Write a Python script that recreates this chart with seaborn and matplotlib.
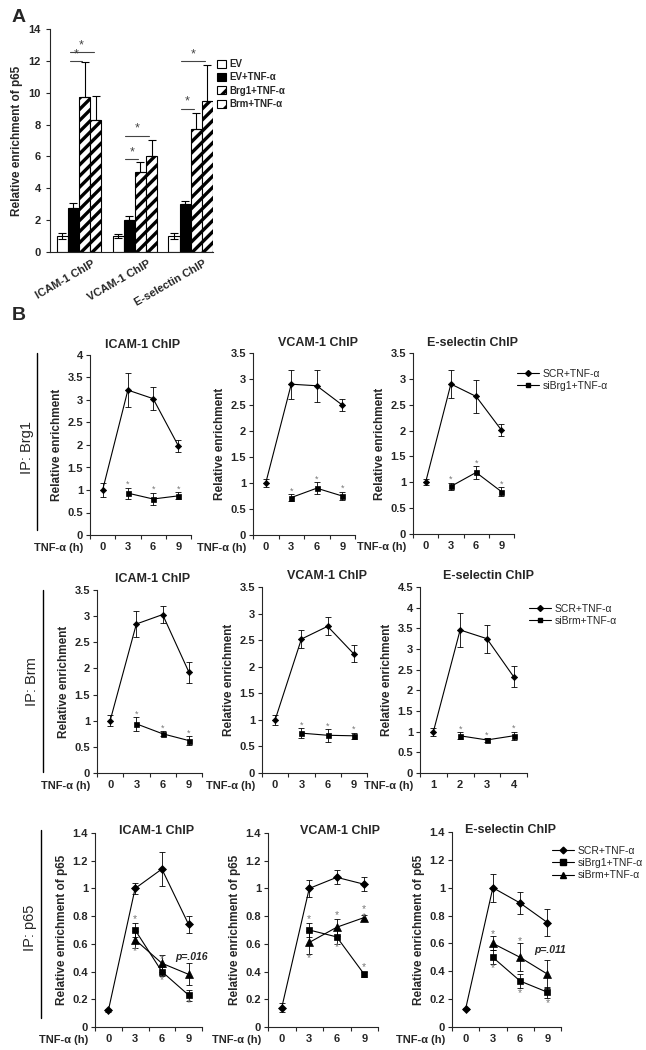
import numpy as np
import pandas as pd
import seaborn as sns
import matplotlib.pyplot as plt
from matplotlib.lines import Line2D
from matplotlib.patches import Patch
from matplotlib.ticker import FuncFormatter
from matplotlib.transforms import ScaledTranslation

sns.set_style('ticks')
plt.rcParams['font.family'] = ['Liberation Sans', 'DejaVu Sans']
plt.rcParams['hatch.linewidth'] = 2.4

# ---------------- panel A data ----------------
chip_targets = ['ICAM-1 ChIP', 'VCAM-1 ChIP', 'E-selectin ChIP']
a_groups = ['EV', 'EV+TNF-α', 'Brg1+TNF-α', 'Brm+TNF-α']
a_ev = [1.0, 1.0, 1.0]
a_ev_err = [0.2, 0.12, 0.18]
a_ev_tnf = [2.75, 2.0, 3.0]
a_ev_tnf_err = [0.35, 0.25, 0.2]
a_brg1 = [9.75, 5.0, 7.75]
a_brg1_err = [2.2, 0.65, 1.0]
a_brm = [8.3, 6.05, 9.5]
a_brm_err = [1.5, 1.0, 2.25]
# (target, from group, to group, bracket height)
a_sig = [(0, 1, 2, 12.0), (0, 1, 3, 12.55), (1, 1, 2, 5.85),
         (1, 1, 3, 7.3), (2, 1, 2, 9.0), (2, 1, 3, 12.0)]

# ---------------- panel B data ----------------
hours = ['0', '3', '6', '9']
hours_alt = ['1', '2', '3', '4']

# IP: Brg1
brg1_icam_scr = [1.0, 3.22, 3.03, 1.98]
brg1_icam_scr_err = [0.16, 0.37, 0.25, 0.14]
brg1_icam_si = [np.nan, 0.93, 0.80, 0.87]
brg1_icam_si_err = [np.nan, 0.12, 0.14, 0.08]
brg1_vcam_scr = [1.0, 2.90, 2.87, 2.50]
brg1_vcam_scr_err = [0.07, 0.28, 0.31, 0.12]
brg1_vcam_si = [np.nan, 0.72, 0.90, 0.75]
brg1_vcam_si_err = [np.nan, 0.07, 0.11, 0.08]
brg1_esel_scr = [1.0, 2.90, 2.66, 2.01]
brg1_esel_scr_err = [0.06, 0.27, 0.32, 0.12]
brg1_esel_si = [np.nan, 0.92, 1.19, 0.82]
brg1_esel_si_err = [np.nan, 0.07, 0.12, 0.09]

# IP: Brm
brm_icam_scr = [1.0, 2.85, 3.03, 1.93]
brm_icam_scr_err = [0.10, 0.25, 0.16, 0.20]
brm_icam_si = [np.nan, 0.94, 0.75, 0.62]
brm_icam_si_err = [np.nan, 0.13, 0.05, 0.08]
brm_vcam_scr = [1.0, 2.52, 2.76, 2.24]
brm_vcam_scr_err = [0.10, 0.17, 0.17, 0.16]
brm_vcam_si = [np.nan, 0.75, 0.71, 0.70]
brm_vcam_si_err = [np.nan, 0.09, 0.12, 0.06]
brm_esel_scr = [1.0, 3.46, 3.25, 2.33]
brm_esel_scr_err = [0.10, 0.40, 0.34, 0.26]
brm_esel_si = [np.nan, 0.90, 0.80, 0.90]
brm_esel_si_err = [np.nan, 0.08, 0.04, 0.10]

# IP: p65
p65_icam_scr = [0.12, 1.00, 1.14, 0.74]
p65_icam_scr_err = [0.01, 0.04, 0.12, 0.06]
p65_icam_brg1 = [np.nan, 0.70, 0.40, 0.23]
p65_icam_brg1_err = [np.nan, 0.05, 0.03, 0.04]
p65_icam_brm = [np.nan, 0.63, 0.46, 0.38]
p65_icam_brm_err = [np.nan, 0.06, 0.06, 0.08]
p65_vcam_scr = [0.14, 1.00, 1.08, 1.03]
p65_vcam_scr_err = [0.03, 0.06, 0.05, 0.05]
p65_vcam_brg1 = [np.nan, 0.70, 0.65, 0.38]
p65_vcam_brg1_err = [np.nan, 0.05, 0.05, 0.02]
p65_vcam_brm = [np.nan, 0.61, 0.72, 0.79]
p65_vcam_brm_err = [np.nan, 0.08, 0.06, 0.02]
p65_esel_scr = [0.13, 1.00, 0.89, 0.75]
p65_esel_scr_err = [0.01, 0.10, 0.08, 0.10]
p65_esel_brg1 = [np.nan, 0.50, 0.33, 0.25]
p65_esel_brg1_err = [np.nan, 0.05, 0.05, 0.04]
p65_esel_brm = [np.nan, 0.60, 0.50, 0.38]
p65_esel_brm_err = [np.nan, 0.05, 0.10, 0.10]
# significance asterisks (time index, y)
p65_icam_stars = [(1, 0.78), (1, 0.55), (2, 0.49), (2, 0.34), (3, 0.17)]
p65_vcam_stars = [(1, 0.78), (1, 0.50), (2, 0.81), (2, 0.58), (3, 0.85), (3, 0.79), (3, 0.43)]
p65_esel_stars = [(1, 0.67), (1, 0.42), (2, 0.62), (2, 0.24), (3, 0.17)]
p65_icam_p = 'p=.016'
p65_esel_p = 'p=.011'

W, H = 646, 1050
fig = plt.figure(figsize=(W / 100, H / 100), dpi=100)


def px_axes(l, r, t, b):
    return fig.add_axes([l / W, 1 - b / H, (r - l) / W, (b - t) / H])


def fmt_g(v, p):
    return f'{v:g}'


# ---------------- panel A ----------------
axA = px_axes(50, 213, 29, 252)
a_df = pd.DataFrame({
    'target': chip_targets * 4,
    'group': np.repeat(a_groups, 3),
    'value': a_ev + a_ev_tnf + a_brg1 + a_brm,
})
sns.barplot(data=a_df, x='target', y='value', hue='group', hue_order=a_groups,
            palette=['white', 'black', 'white', 'white'], edgecolor='black',
            linewidth=0.8, width=0.8, errorbar=None, legend=False, ax=axA)
hatches = [None, None, '///', '///']
errs = [a_ev_err, a_ev_tnf_err, a_brg1_err, a_brm_err]
vals = [a_ev, a_ev_tnf, a_brg1, a_brm]
bar_conts = list(axA.containers)
centers = []
for k, cont in enumerate(bar_conts):
    xs = [p.get_x() + p.get_width() / 2 for p in cont]
    centers.append(xs)
    if hatches[k]:
        for p in cont:
            p.set_hatch(hatches[k])
    lower = errs[k] if k == 0 else [0] * 3
    axA.errorbar(xs, vals[k], yerr=[lower, errs[k]], fmt='none', ecolor='black',
                 elinewidth=0.8, capsize=3, capthick=0.8)

for t, g0, g1, h in a_sig:
    x0 = centers[g0][t] - 0.07
    x1 = centers[g1][t] - 0.04
    axA.plot([x0, x1], [h, h], color='#444444', lw=0.8)
    axA.text((x0 + x1) / 2, h + 0.05, '*', ha='center', va='bottom', fontsize=9, color='#444444')

axA.set_ylim(0, 14)
axA.set_yticks(np.arange(0, 15, 2))
axA.set_xlim(-0.52, 2.4)
axA.set_xlabel('')
axA.set_ylabel('Relative enrichment of p65', fontsize=8.5, fontweight='bold', labelpad=4)
axA.tick_params(axis='y', labelsize=8, length=3, width=0.8)
axA.tick_params(axis='x', labelsize=8, length=0, pad=2)
for lbl in axA.get_yticklabels():
    lbl.set_fontweight('bold')
for lbl in axA.get_xticklabels():
    lbl.set_fontweight('bold')
    lbl.set_rotation(30)
    lbl.set_ha('right')
    lbl.set_rotation_mode('anchor')
    lbl.set_transform(lbl.get_transform() + ScaledTranslation(9 / 72, -3 / 72, fig.dpi_scale_trans))
sns.despine(ax=axA)
for s in axA.spines.values():
    s.set_linewidth(0.8)

a_handles = [Patch(facecolor='white', edgecolor='black', lw=0.8),
             Patch(facecolor='black', edgecolor='black', lw=0.8),
             Patch(facecolor='white', edgecolor='black', hatch='//', lw=0.8),
             Patch(facecolor='white', edgecolor='black', hatch='//', lw=0.8)]
legA = fig.legend(a_handles, a_groups, loc='upper left', bbox_to_anchor=(217 / W, 1 - 59 / H),
                  frameon=False, fontsize=7, handlelength=0.9, handleheight=0.9,
                  handletextpad=0.4, labelspacing=0.35, borderpad=0, borderaxespad=0)
for t in legA.get_texts():
    t.set_fontweight('bold')

fig.text(12 / W, 1 - 17 / H, 'A', fontsize=14, fontweight='bold', va='center')
fig.text(12 / W, 1 - 316 / H, 'B', fontsize=14, fontweight='bold', va='center')

# ---------------- panel B ----------------
row_axes = [
    [(90, 191, 355, 535), (253, 355, 353, 535), (413, 514, 353, 534)],
    [(97, 202, 590, 773), (262, 367, 587, 773), (420, 527, 587, 773)],
    [(95, 202, 833, 1027), (268, 378, 833, 1027), (452, 561, 832, 1027)],
]
title_x = [[0.52, 0.64, 0.59], [0.53, 0.62, 0.64], [0.58, 0.65, 0.54]]
title_dy = [7.5, 8, 1.5]

rows = [
    dict(ylabel='Relative enrichment', ylims=[4, 3.5, 3.5], step=0.5,
         xlabels=[hours, hours, hours],
         series=[
             [('SCR+TNF-α', brg1_icam_scr, brg1_icam_scr_err, 'D'), ('siBrg1+TNF-α', brg1_icam_si, brg1_icam_si_err, 's')],
             [('SCR+TNF-α', brg1_vcam_scr, brg1_vcam_scr_err, 'D'), ('siBrg1+TNF-α', brg1_vcam_si, brg1_vcam_si_err, 's')],
             [('SCR+TNF-α', brg1_esel_scr, brg1_esel_scr_err, 'D'), ('siBrg1+TNF-α', brg1_esel_si, brg1_esel_si_err, 's')],
         ]),
    dict(ylabel='Relative enrichment', ylims=[3.5, 3.5, 4.5], step=0.5,
         xlabels=[hours, hours, hours_alt],
         series=[
             [('SCR+TNF-α', brm_icam_scr, brm_icam_scr_err, 'D'), ('siBrm+TNF-α', brm_icam_si, brm_icam_si_err, 's')],
             [('SCR+TNF-α', brm_vcam_scr, brm_vcam_scr_err, 'D'), ('siBrm+TNF-α', brm_vcam_si, brm_vcam_si_err, 's')],
             [('SCR+TNF-α', brm_esel_scr, brm_esel_scr_err, 'D'), ('siBrm+TNF-α', brm_esel_si, brm_esel_si_err, 's')],
         ]),
    dict(ylabel='Relative enrichment of p65', ylims=[1.4, 1.4, 1.4], step=0.2,
         xlabels=[hours, hours, hours],
         series=[
             [('SCR+TNF-α', p65_icam_scr, p65_icam_scr_err, 'D'), ('siBrg1+TNF-α', p65_icam_brg1, p65_icam_brg1_err, 's'),
              ('siBrm+TNF-α', p65_icam_brm, p65_icam_brm_err, '^')],
             [('SCR+TNF-α', p65_vcam_scr, p65_vcam_scr_err, 'D'), ('siBrg1+TNF-α', p65_vcam_brg1, p65_vcam_brg1_err, 's'),
              ('siBrm+TNF-α', p65_vcam_brm, p65_vcam_brm_err, '^')],
             [('SCR+TNF-α', p65_esel_scr, p65_esel_scr_err, 'D'), ('siBrg1+TNF-α', p65_esel_brg1, p65_esel_brg1_err, 's'),
              ('siBrm+TNF-α', p65_esel_brm, p65_esel_brm_err, '^')],
         ]),
]
p65_stars = [p65_icam_stars, p65_vcam_stars, p65_esel_stars]
p65_ptext = [(3.12, 0.505, p65_icam_p), None, (3.1, 0.55, p65_esel_p)]

big_ms = {'D': 4.2, 's': 5, '^': 5.5}
small_ms = {'D': 3.2, 's': 3.6, '^': 4}

for r, row in enumerate(rows):
    for c in range(3):
        ax = px_axes(*row_axes[r][c])
        labels = row['xlabels'][c]
        x = np.arange(len(labels))
        ms_map = big_ms if r == 2 else small_ms
        for name, v, e, mk in row['series'][c]:
            d = pd.DataFrame({'t': x, 'v': v}).dropna()
            sns.lineplot(data=d, x='t', y='v', ax=ax, color='black', linewidth=0.8,
                         marker=mk, markersize=ms_map[mk], markeredgecolor='black',
                         markerfacecolor='black', markeredgewidth=0.5)
            ax.errorbar(x, v, yerr=e, fmt='none', ecolor='black', elinewidth=0.6,
                        capsize=2.5, capthick=0.6)
            if r < 2 and name != 'SCR+TNF-α':
                for i in range(1, len(x)):
                    ax.annotate('*', xy=(i, v[i] + e[i]), xytext=(0, -1), textcoords='offset points',
                                ha='center', va='bottom', fontsize=6.5, color='#777777')
        if r == 2:
            for i, y in p65_stars[c]:
                ax.text(i, y, '*', ha='center', va='center', fontsize=7.5, color='#777777')
            if p65_ptext[c]:
                px, py, s = p65_ptext[c]
                ax.text(px, py, s, ha='center', va='center', fontsize=7.5,
                        fontweight='bold', fontstyle='italic')

        ax.set_xlim(-0.5, len(x) - 0.5)
        ax.set_ylim(0, row['ylims'][c])
        ax.set_yticks(np.arange(0, row['ylims'][c] + 1e-6, row['step']))
        ax.yaxis.set_major_formatter(FuncFormatter(fmt_g))
        ax.set_xticks(np.arange(-0.5, len(x), 1.0))
        ax.set_xticklabels([])
        ax.set_xticks(x, minor=True)
        ax.set_xticklabels(labels, minor=True)
        ax.tick_params(axis='x', which='minor', length=0, pad=5, labelsize=8)
        ax.tick_params(axis='x', which='major', length=3, width=0.8, direction='out')
        ax.tick_params(axis='y', length=3, width=0.8, labelsize=8, pad=2)
        for lbl in ax.get_xticklabels(minor=True) + ax.get_yticklabels():
            lbl.set_fontweight('bold')
        ax.set_xlabel('')
        ax.set_ylabel(row['ylabel'], fontsize=8.5, fontweight='bold', labelpad=3)
        sns.despine(ax=ax)
        for s in ax.spines.values():
            s.set_linewidth(0.8)
        ax.annotate('TNF-α (h)', xy=(0, 0), xycoords='axes fraction', xytext=(-5, -9.2),
                    textcoords='offset points', ha='right', va='center', fontsize=8, fontweight='bold')
        ax.annotate(chip_targets[c], xy=(title_x[r][c], 1), xycoords='axes fraction',
                    xytext=(0, title_dy[r]), textcoords='offset points', ha='center', va='center',
                    fontsize=9, fontweight='bold')

# row labels with vertical rules
row_labels = [('IP: Brg1', 27, 447, 37, 353, 530),
              ('IP: Brm', 32, 682, 43, 590, 772),
              ('IP: p65', 30, 928, 41, 830, 1018)]
for s, tx, ty, lx, ly0, ly1 in row_labels:
    fig.text(tx / W, 1 - ty / H, s, rotation=90, ha='center', va='center', fontsize=10.5)
    fig.add_artist(Line2D([lx / W, lx / W], [1 - ly0 / H, 1 - ly1 / H], color='black', lw=1.0))

# legends
def make_handles(specs):
    return [Line2D([], [], color='black', lw=0.8, marker=mk, markersize=ms, markerfacecolor='black')
            for mk, ms in specs]

leg_specs = [
    (['SCR+TNF-α', 'siBrg1+TNF-α'], [('D', 3), ('s', 3.4)], (517, 369)),
    (['SCR+TNF-α', 'siBrm+TNF-α'], [('D', 3), ('s', 3.4)], (529, 604)),
    (['SCR+TNF-α', 'siBrg1+TNF-α', 'siBrm+TNF-α'], [('D', 3.4), ('s', 3.8), ('^', 4)], (552, 846)),
]
for labels, specs, (lx, ly) in leg_specs:
    fig.legend(make_handles(specs), labels, loc='upper left', bbox_to_anchor=(lx / W, 1 - ly / H),
               frameon=False, fontsize=7.5, handlelength=2.1, handletextpad=0.4,
               labelspacing=0.2, borderpad=0, borderaxespad=0)

fig.savefig('out.png', dpi=100)
